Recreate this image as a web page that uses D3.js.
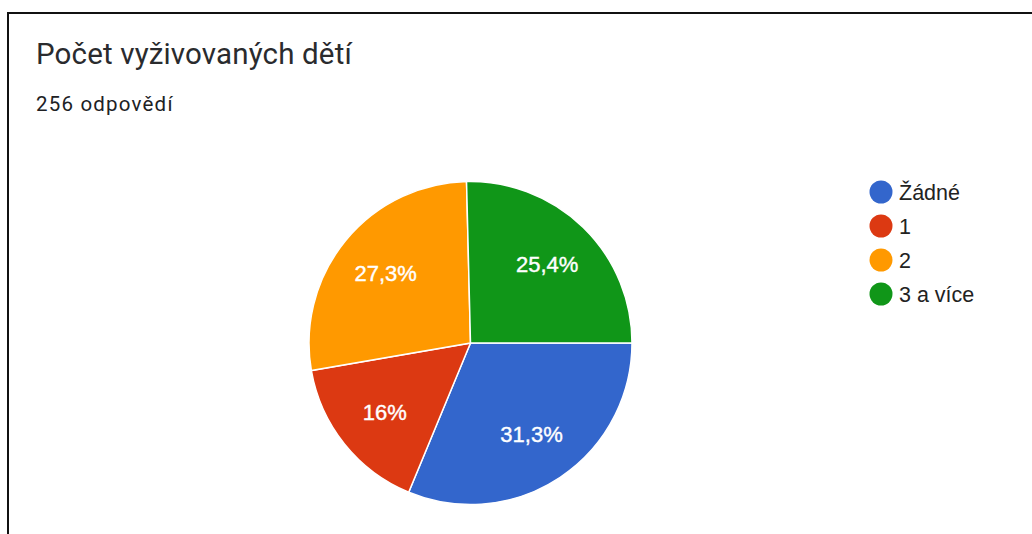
<!DOCTYPE html>
<html>
<head>
<meta charset="utf-8">
<script src="https://cdn.jsdelivr.net/npm/d3@7"></script>
<style>
  html, body { margin: 0; padding: 0; background: #fff; }
  svg { display: block; }
</style>
</head>
<body>
<svg id="chart" width="1032" height="534"></svg>
<script>
const categories = ["Žádné", "1", "2", "3 a více"];
const counts = [80, 41, 70, 65];
const percentLabels = ["31,3%", "16%", "27,3%", "25,4%"];
const colors = ["#3366cc", "#dc3912", "#ff9900", "#109618"];
const title = "Počet vyživovaných dětí";
const subtitle = "256 odpovědí";

const svg = d3.select("#chart");
const W = 1032, H = 534;

// frame
svg.append("rect")
  .attr("x", 8).attr("y", 13)
  .attr("width", W + 20).attr("height", H + 20)
  .attr("fill", "#fff")
  .attr("stroke", "#111").attr("stroke-width", 2);

svg.append("text")
  .attr("x", 36).attr("y", 64)
  .attr("font-family", "Roboto, 'Open Sans', sans-serif")
  .attr("font-size", 29.5)
  .attr("letter-spacing", 0.15)
  .attr("fill", "#2a2b2e")
  .text(title);

svg.append("text")
  .attr("x", 36).attr("y", 111)
  .attr("font-family", "Roboto, 'Open Sans', sans-serif")
  .attr("font-size", 20.5)
  .attr("letter-spacing", 1.2)
  .attr("fill", "#202124")
  .text(subtitle);

const cx = 470.5, cy = 343, r = 161.5;
const pie = d3.pie().sort(null).value(d => d)
  .startAngle(Math.PI / 2).endAngle(Math.PI / 2 + 2 * Math.PI);
const arcs = pie(counts);
const arc = d3.arc().innerRadius(0).outerRadius(r);
const labelArc = d3.arc().innerRadius(r * 0.68).outerRadius(r * 0.68);

const g = svg.append("g").attr("transform", `translate(${cx},${cy})`);
g.selectAll("path.slice").data(arcs).join("path")
  .attr("class", "slice")
  .attr("d", arc)
  .attr("fill", (d, i) => colors[i])
  .attr("stroke", "#fff").attr("stroke-width", 1.5);

g.selectAll("text.lbl").data(arcs).join("text")
  .attr("class", "lbl")
  .attr("transform", d => `translate(${labelArc.centroid(d)})`)
  .attr("text-anchor", "middle")
  .attr("dy", "0.36em")
  .attr("font-family", "'Liberation Sans', Arial, sans-serif")
  .attr("font-size", 22)
  .attr("fill", "#fff")
  .attr("stroke", "#fff").attr("stroke-width", 0.4)
  .text((d, i) => percentLabels[i]);

const legendY = d3.scalePoint().domain(categories).range([192, 294]);
const leg = svg.append("g");
const items = leg.selectAll("g").data(categories).join("g")
  .attr("transform", d => `translate(0,${legendY(d)})`);
items.append("circle")
  .attr("cx", 881).attr("cy", 0).attr("r", 11.5)
  .attr("fill", (d, i) => colors[i]);
items.append("text")
  .attr("x", 899).attr("y", 0).attr("dy", "0.36em")
  .attr("font-family", "'Liberation Sans', Arial, sans-serif")
  .attr("font-size", 21.5)
  .attr("fill", "#222")
  .text(d => d);
</script>
</body>
</html>
